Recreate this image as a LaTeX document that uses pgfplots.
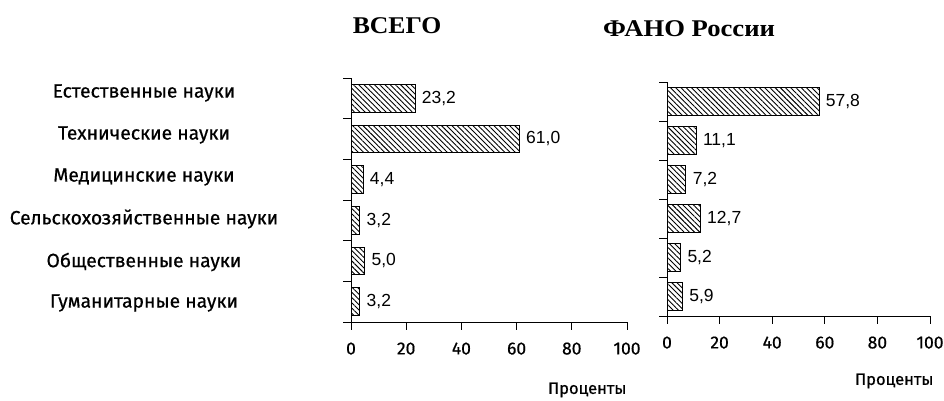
\documentclass[border=0pt]{standalone}
\usepackage{fontspec}
\usepackage{pgfplots}
\pgfplotsset{compat=1.18}
\usetikzlibrary{patterns.meta}
\setmainfont{Liberation Serif}
\newfontfamily\fira[FakeBold=0.6]{Fira Sans}
\newfontfamily\arial{Liberation Sans}

% Shares by field of science: all organisations vs. FANO Russia
% (y = 5 is the top row, y = 0 the bottom one)
\pgfplotstableread{
y  total
5  23.2
4  61.0
3  4.4
2  3.2
1  5.0
0  3.2
}\totaltab
\pgfplotstableread{
y  fano
5  57.8
4  11.1
3  7.2
2  12.7
1  5.2
0  5.9
}\fanotab

\pgfplotsset{
  sharebars/.style={
    scale only axis,
    xbar,
    xmin=0, xmax=100,
    ymin=-0.5, ymax=5.5,
    axis lines=left,
    axis line style={-, line width=0.9pt},
    tick style={line width=0.9pt, black},
    tick align=outside,
    major tick length=8pt,
    xtick={0,20,...,100},
    ytick={-0.5,0.5,...,5.5},
    yticklabels={},
    /pgf/number format/assume math mode=true,
    xticklabel style={font=\fira\fontsize{17.5}{17.5}\selectfont, yshift=-9pt},
    xlabel={Проценты},
    xlabel style={font=\fira\fontsize{16.5}{16.5}\selectfont,
      at={(rel axis cs:1,0)}, anchor=north east, yshift=-54pt, xshift=3pt},
    nodes near coords,
    nodes near coords style={anchor=west, xshift=3pt,
      font=\arial\fontsize{17.5}{17.5}\selectfont,
      /pgf/number format/.cd, fixed, fixed zerofill, precision=1, use comma},
    clip=false,
  },
  hatch/.style={draw=black, line width=1pt,
    pattern={Lines[angle=-45, distance=3.7pt, line width=0.9pt]}},
}

\begin{document}
\begin{tikzpicture}
\useasboundingbox (0,0) rectangle (944pt,401pt);

% category names
\begin{scope}[font=\fira\fontsize{19.3}{19.3}\selectfont]
\node at (144pt,308pt) {Естественные науки};
\node at (144pt,266pt) {Технические науки};
\node at (144pt,224pt) {Медицинские науки};
\node at (144pt,182pt) {Сельскохозяйственные науки};
\node at (144pt,139pt) {Общественные науки};
\node at (144pt,98pt)  {Гуманитарные науки};
\end{scope}

% panel titles
\node[font=\bfseries\fontsize{24}{24}\selectfont] at (397pt,375pt)
  {\scalebox{1.07}[1]{ВСЕГО}};
\node[font=\bfseries\fontsize{24}{24}\selectfont] at (689pt,372pt)
  {\scalebox{1.11}[1]{ФАНО России}};

\begin{axis}[sharebars, at={(351pt,79pt)}, anchor=south west,
  width=276pt, height=244pt, bar width=0.68,
  xlabel style={yshift=-3pt}]
\addplot[hatch] table[x=total, y=y] {\totaltab};
\end{axis}

\begin{axis}[sharebars, at={(667pt,85pt)}, anchor=south west,
  width=263pt, height=234pt, bar width=0.72,
  xlabel style={xshift=4pt}]
\addplot[hatch] table[x=fano, y=y] {\fanotab};
\end{axis}
\end{tikzpicture}
\end{document}
